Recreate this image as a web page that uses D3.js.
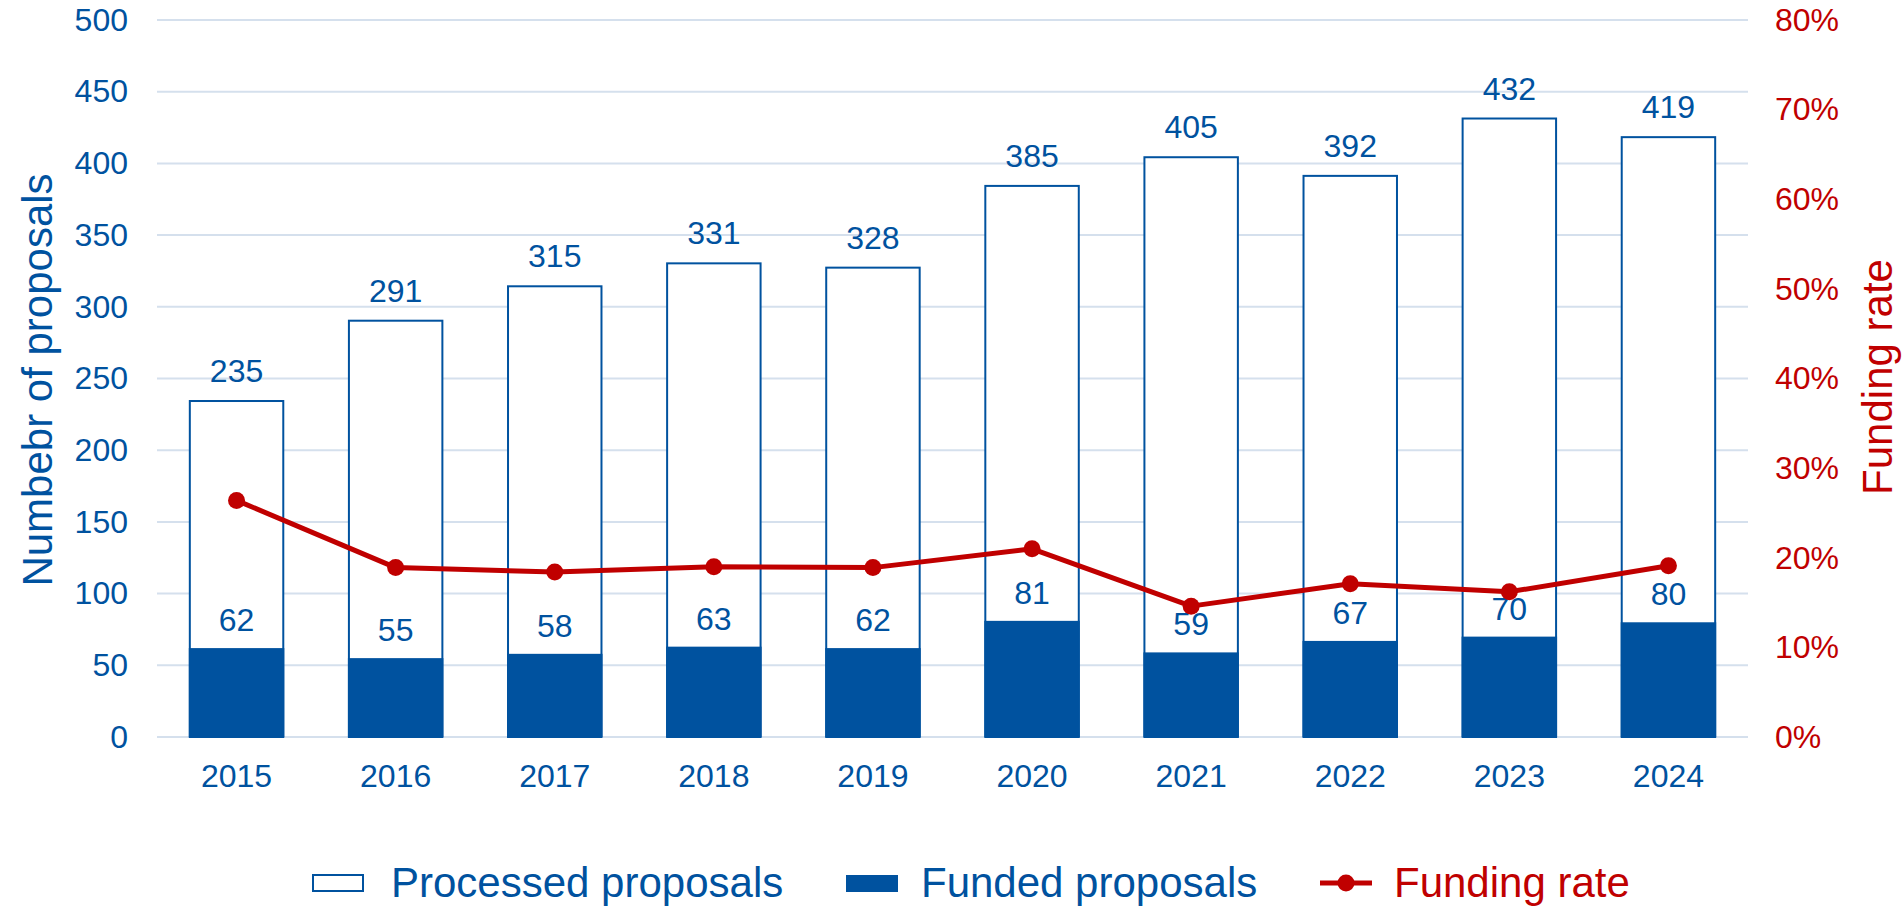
<!DOCTYPE html>
<html>
<head>
<meta charset="utf-8">
<script src="https://cdn.jsdelivr.net/npm/d3@7"></script>
<style>
  html, body { margin: 0; padding: 0; background: #fff; }
  svg { display: block; font-family: "Liberation Sans", Arial, sans-serif; }
</style>
</head>
<body>
<svg id="chart" width="1904" height="906"></svg>
<script>
const years = ["2015","2016","2017","2018","2019","2020","2021","2022","2023","2024"];
const processed = [235, 291, 315, 331, 328, 385, 405, 392, 432, 419];
const funded = [62, 55, 58, 63, 62, 81, 59, 67, 70, 80];
const fundingRate = [26.4, 18.9, 18.4, 19.0, 18.9, 21.0, 14.6, 17.1, 16.2, 19.1];
const leftTicks = [0, 50, 100, 150, 200, 250, 300, 350, 400, 450, 500];
const rightTicks = [0, 10, 20, 30, 40, 50, 60, 70, 80];

const BLUE = "#00529F";
const RED = "#C00000";
const GRID = "#D5E0ED";

const svg = d3.select("#chart");
const plotLeft = 157, plotRight = 1748, plotTop = 20, plotBottom = 737;

const x = d3.scaleBand().domain(years).range([plotLeft, plotRight]).paddingInner(0.4).paddingOuter(0.2);
const y = d3.scaleLinear().domain([0, 500]).range([plotBottom, plotTop]);
const y2 = d3.scaleLinear().domain([0, 80]).range([plotBottom, plotTop]);

// gridlines
svg.append("g").selectAll("line").data(leftTicks).join("line")
  .attr("x1", plotLeft).attr("x2", plotRight)
  .attr("y1", d => y(d)).attr("y2", d => y(d))
  .attr("stroke", GRID).attr("stroke-width", 2);

// left axis
const yAxis = d3.axisLeft(y).tickValues(leftTicks).tickSize(0).tickPadding(0);
const gL = svg.append("g").attr("transform", "translate(128,0)").call(yAxis);
gL.select(".domain").remove();
gL.selectAll("text").attr("fill", BLUE).attr("font-size", 32).attr("font-family", "Liberation Sans, Arial, sans-serif");

// right axis
const y2Axis = d3.axisRight(y2).tickValues(rightTicks).tickSize(0).tickPadding(0).tickFormat(d => d + "%");
const gR = svg.append("g").attr("transform", "translate(1775,0)").call(y2Axis);
gR.select(".domain").remove();
gR.selectAll("text").attr("fill", RED).attr("font-size", 32).attr("font-family", "Liberation Sans, Arial, sans-serif");

// x axis
const xAxis = d3.axisBottom(x).tickSize(0).tickPadding(0);
const gX = svg.append("g").attr("transform", "translate(0,764)").call(xAxis);
gX.select(".domain").remove();
gX.selectAll("text").attr("fill", BLUE).attr("font-size", 32).attr("dy", "0.71em").attr("font-family", "Liberation Sans, Arial, sans-serif");

// processed bars (outline)
svg.append("g").selectAll("rect").data(years).join("rect")
  .attr("x", (d) => x(d) + 1)
  .attr("width", x.bandwidth() - 2)
  .attr("y", (d, i) => y(processed[i]) + 1)
  .attr("height", (d, i) => y(0) - y(processed[i]) - 1)
  .attr("fill", "#fff").attr("stroke", BLUE).attr("stroke-width", 2);

// funded bars
svg.append("g").selectAll("rect").data(years).join("rect")
  .attr("x", d => x(d))
  .attr("width", x.bandwidth())
  .attr("y", (d, i) => y(funded[i]))
  .attr("height", (d, i) => y(0) - y(funded[i]))
  .attr("fill", BLUE);

// labels processed
svg.append("g").selectAll("text").data(years).join("text")
  .attr("x", d => x(d) + x.bandwidth() / 2)
  .attr("y", (d, i) => y(processed[i]) - 18)
  .attr("text-anchor", "middle").attr("font-size", 32).attr("fill", BLUE)
  .text((d, i) => processed[i]);

// labels funded
svg.append("g").selectAll("text").data(years).join("text")
  .attr("x", d => x(d) + x.bandwidth() / 2)
  .attr("y", (d, i) => y(funded[i]) - 17)
  .attr("text-anchor", "middle").attr("font-size", 32).attr("fill", BLUE)
  .text((d, i) => funded[i]);

// funding rate line
const line = d3.line().x((d, i) => x(years[i]) + x.bandwidth() / 2).y(d => y2(d));
svg.append("path").datum(fundingRate).attr("d", line)
  .attr("fill", "none").attr("stroke", RED).attr("stroke-width", 5).attr("stroke-linejoin", "round");
svg.append("g").selectAll("circle").data(fundingRate).join("circle")
  .attr("cx", (d, i) => x(years[i]) + x.bandwidth() / 2)
  .attr("cy", d => y2(d))
  .attr("r", 8.5).attr("fill", RED);

// axis titles
svg.append("text").attr("transform", "translate(52,380) rotate(-90)")
  .attr("text-anchor", "middle").attr("font-size", 42).attr("fill", BLUE)
  .text("Numbebr of proposals");
svg.append("text").attr("transform", "translate(1892,377) rotate(-90)")
  .attr("text-anchor", "middle").attr("font-size", 42).attr("fill", RED)
  .text("Funding rate");

// legend
const lg = svg.append("g");
lg.append("rect").attr("x", 313).attr("y", 875).attr("width", 50).attr("height", 16)
  .attr("fill", "#fff").attr("stroke", BLUE).attr("stroke-width", 2);
lg.append("text").attr("x", 391).attr("y", 897).attr("font-size", 42).attr("fill", BLUE).text("Processed proposals");
lg.append("rect").attr("x", 846).attr("y", 875).attr("width", 52).attr("height", 17).attr("fill", BLUE);
lg.append("text").attr("x", 921).attr("y", 897).attr("font-size", 42).attr("fill", BLUE).text("Funded proposals");
lg.append("line").attr("x1", 1320).attr("x2", 1372).attr("y1", 883).attr("y2", 883)
  .attr("stroke", RED).attr("stroke-width", 5);
lg.append("circle").attr("cx", 1346).attr("cy", 883).attr("r", 8.5).attr("fill", RED);
lg.append("text").attr("x", 1394).attr("y", 897).attr("font-size", 42).attr("fill", RED).text("Funding rate");
</script>
</body>
</html>
